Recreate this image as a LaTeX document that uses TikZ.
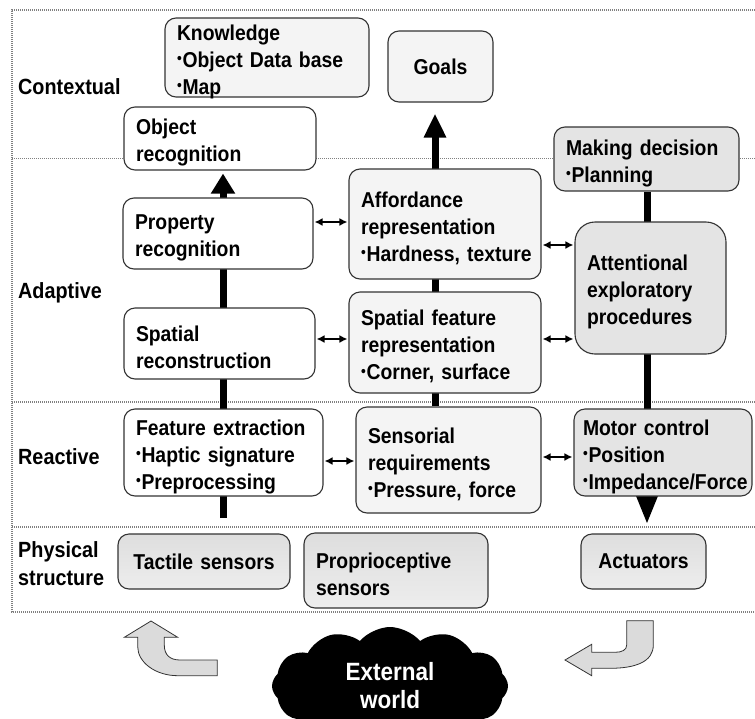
\documentclass[tikz,border=0pt]{standalone}
\usepackage{fontspec}
\setmainfont{Liberation Sans}[FakeStretch=0.9]
\usetikzlibrary{arrows.meta,shapes.symbols,backgrounds,calc}
\definecolor{lightbox}{HTML}{F4F4F4}
\definecolor{graybox}{HTML}{E4E4E4}
\definecolor{edge}{HTML}{333333}
\newcommand\bul{\raisebox{3.5pt}{\fontsize{15}{15}\selectfont •}\kern0.8pt}
\tikzset{
  base/.style={draw=edge, line width=1.1pt, rounded corners=11pt,
    font=\bfseries\fontsize{21.5}{27}\selectfont, inner xsep=12pt, inner ysep=2pt, align=left,
    execute at begin node={\hyphenpenalty=10000\exhyphenpenalty=10000}},
  dn/.style={execute at end node={\par\vspace*{-8pt}}},
  wbox/.style={base, fill=white},
  lbox/.style={base, fill=lightbox},
  gbox/.style={base, fill=graybox},
  pbox/.style={base, top color=gray!26, bottom color=gray!14, align=center},
  bar/.style={line width=7pt, black},
  dbl/.style={line width=1.6pt, {Latex[length=8pt,width=8pt]}-{Latex[length=8pt,width=8pt]}, shorten <=1pt, shorten >=1pt},
  sep/.style={gray, line width=1.1pt, dash pattern=on 1pt off 1pt},
  bent/.style={fill=gray!28, draw=edge, line width=0.8pt},
  lab/.style={anchor=west, font=\bfseries\fontsize{22}{28}\selectfont, align=left, inner sep=0pt}
}
\begin{document}
\begin{tikzpicture}[x=1pt,y=-1pt]
\useasboundingbox (0,0) rectangle (755,718);

% layer labels
\node[lab] (lctx) at (18,87) {Contextual};
\node[lab] (ladp) at (18,293) {Adaptive};
\node[lab] (lrea) at (18,457) {Reactive};
\node[lab] (lphy) at (18,564) {Physical\\structure};

% boxes
\node[lbox, dn, minimum width=204pt, minimum height=79pt, text width=180pt] (know) at (267,57.5)
  {Knowledge\\\mbox{\bul Object Data base}\\\bul Map};
\node[lbox, align=center, minimum width=105pt, minimum height=71pt, text width=81pt] (goals) at (440.5,66.5) {Goals};
\node[wbox, dn, minimum width=192pt, minimum height=63pt, text width=168pt] (objrec) at (220,138.5) {Object\\recognition};
\node[gbox, dn, minimum width=185pt, minimum height=64pt, text width=161pt] (decision) at (646.5,159) {\mbox{Making decision}\\\bul Planning};
\node[wbox, dn, minimum width=190pt, minimum height=71pt, text width=166pt] (prop) at (218,233.5) {Property\\recognition};
\node[lbox, dn, minimum width=192pt, minimum height=110pt, text width=168pt] (afford) at (445,224)
  {Affordance\\representation\\\mbox{\bul Hardness, texture}};
\node[gbox, dn, rounded corners=20pt, minimum width=151pt, minimum height=132pt, text width=127pt] (attn) at (650.5,288)
  {Attentional\\exploratory\\procedures};
\node[lbox, dn, minimum width=192pt, minimum height=101pt, text width=168pt] (spfeat) at (445,342.5)
  {\mbox{Spatial feature}\\representation\\\mbox{\bul Corner, surface}};
\node[wbox, dn, minimum width=191pt, minimum height=71pt, text width=167pt] (sprec) at (219.5,343.5) {Spatial\\reconstruction};
\node[wbox, dn, minimum width=199pt, minimum height=87pt, text width=175pt] (featext) at (223.5,452.5)
  {\mbox{Feature extraction}\\\mbox{\bul Haptic signature}\\\bul Preprocessing};
\node[lbox, dn, minimum width=185pt, minimum height=106pt, text width=161pt] (sensor) at (448.5,460)
  {Sensorial\\requirements\\\mbox{\bul Pressure, force}};
\node[gbox, dn, inner xsep=9pt, minimum width=178pt, minimum height=87pt, text width=160pt] (motor) at (663,452.5)
  {\mbox{Motor control}\\\bul Position\\\mbox{\bul Impedance/Force}};
\node[pbox, minimum width=172pt, minimum height=55pt, text width=148pt] (tactile) at (204,561.5) {\mbox{Tactile sensors}};
\node[pbox, dn, align=left, minimum width=184pt, minimum height=75pt, text width=160pt] (proprio) at (396,570.5) {Proprioceptive\\sensors};
\node[pbox, minimum width=125pt, minimum height=55pt, text width=101pt] (actu) at (643.5,561.5) {Actuators};

% external world
\node[cloud, cloud puffs=12, cloud puff arc=100, aspect=2.2, fill=black, minimum width=236pt, minimum height=118pt,
  text=white, align=center, font=\bfseries\fontsize{25}{28}\selectfont] (world) at (390,686) {External\\world};

% bent arrows
\draw[bent] (151,621) -- (177.7,637.3) -- (164.3,637.3) -- (164.3,645)
  .. controls (164.3,655) and (170,660) .. (180,660) -- (217.3,660) -- (217.3,675.7) -- (178,675.7)
  .. controls (155,675.7) and (137.7,662) .. (137.7,646.7) -- (137.7,637.3) -- (124.3,637.3) -- cycle;
\draw[bent] (626.7,620.7) -- (653.3,620.7) -- (653.3,645)
  .. controls (653.3,662) and (635,668.3) .. (610,668.3) -- (591.7,668.3) -- (591.7,675.7) -- (565,660)
  -- (591.7,644.3) -- (591.7,652.3) -- (615,652.3)
  .. controls (622,652.3) and (626.7,650) .. (626.7,645) -- cycle;

% helper coordinates
\coordinate (lb) at (223,518);
\coordinate (mb) at (435,0);
\coordinate (rb) at (647,0);
\coordinate (r1) at (0,222);
\coordinate (r2) at (0,339);
\coordinate (r3) at (0,245);
\coordinate (r4) at (0,461);
\coordinate (r5) at (0,457);
\coordinate (f1) at (12,10);
\coordinate (f2) at (755,10);
\coordinate (f3) at (12,612);

% double arrows
\draw[dbl] (prop.east |- r1) -- (afford.west |- r1);
\draw[dbl] (sprec.east |- r2) -- (spfeat.west |- r2);
\draw[dbl] (afford.east |- r3) -- (attn.west |- r3);
\draw[dbl] (spfeat.east |- r2) -- (attn.west |- r2);
\draw[dbl] (featext.east |- r4) -- (sensor.west |- r4);
\draw[dbl] (sensor.east |- r5) -- (motor.west |- r5);

\begin{scope}[on background layer]
  % frame
  \draw[sep] (f2) -- (f1) -- (f3) -- (f3 -| f2);
  \draw[sep] (12,158.5) -- (755,158.5);
  \draw[sep] (12,402) -- (755,402);
  \draw[sep] (12,527) -- (755,527);
  % thick flows
  \draw[bar, -{Triangle[width=23pt,length=20pt]}, shorten >=3pt] (lb) -- (lb |- objrec.south);
  \draw[bar, -{Triangle[width=21pt,length=24pt]}, shorten >=11pt] (sensor.north -| mb) -- (goals.south -| mb);
  \draw[bar, -{Triangle[width=20pt,length=29pt]}, shorten >=9pt] (decision.south -| rb) -- (actu.north -| rb);
\end{scope}
\end{tikzpicture}
\end{document}
